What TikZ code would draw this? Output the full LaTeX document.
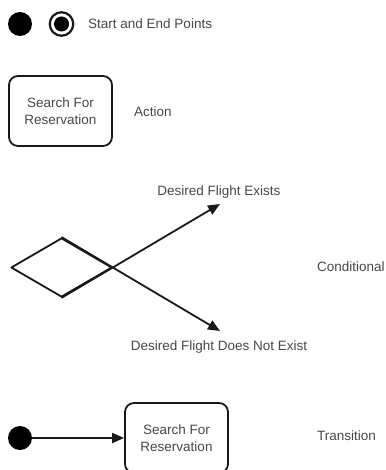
\documentclass[tikz,border=0pt]{standalone}
\usepackage{fontspec}
\setmainfont{Liberation Sans}
\usetikzlibrary{arrows.meta,shapes.geometric}
\begin{document}
\begin{tikzpicture}[x=1pt,y=-1pt,
  lbl/.style={text=black!72, font=\fontsize{13.5}{17}\selectfont, inner sep=0pt},
  actbox/.style={lbl, draw=black!90, line width=1.8pt, rounded corners=9pt,
    minimum width=103pt, minimum height=70pt, align=center},
  startdot/.style={circle, fill=black, inner sep=0pt, minimum size=24pt},
  endring/.style={circle, draw=black!90, line width=2.2pt, inner sep=0pt, minimum size=23.5pt},
  enddot/.style={circle, fill=black, inner sep=0pt, minimum size=15pt},
  decision/.style={diamond, draw=black!90, line width=1.8pt, line join=round, inner sep=0pt,
    minimum width=101pt, minimum height=59pt},
  flow/.style={draw=black!90, line width=1.8pt, -{Triangle[length=12pt,width=10pt]}}]
  \useasboundingbox (0,0) rectangle (385,470);

  % start and end points
  \node[startdot] (start) at (20,24) {};
  \node[endring] (endo) at (61.5,24) {};
  \node[enddot] (endi) at (61.5,24) {};
  \node[lbl, anchor=west] (kpts) at (88,24) {Start and End Points};

  % action
  \node[actbox] (act) at (60.5,111) {Search For\\Reservation};
  \node[lbl, anchor=west] (kact) at (134,112) {Action};

  % conditional
  \node[decision] (dec) at (61.5,267.5) {};
  \coordinate (yes) at (220,204);
  \coordinate (no) at (220,331);
  \draw[flow] (dec.south) -- (yes);
  \draw[flow] (dec.north) -- (no);
  \node[lbl] (lyes) at (219,192) {Desired Flight Exists};
  \node[lbl] (lno) at (219,347) {Desired Flight Does Not Exist};
  \node[lbl, anchor=west] (kcond) at (317,267) {Conditional};

  % transition
  \node[startdot] (tstart) at (20,438) {};
  \node[actbox] (tact) at (176.5,438) {Search For\\Reservation};
  \draw[flow] (tstart) -- (tact.west);
  \node[lbl, anchor=west] (ktrans) at (317,436) {Transition};
\end{tikzpicture}
\end{document}
